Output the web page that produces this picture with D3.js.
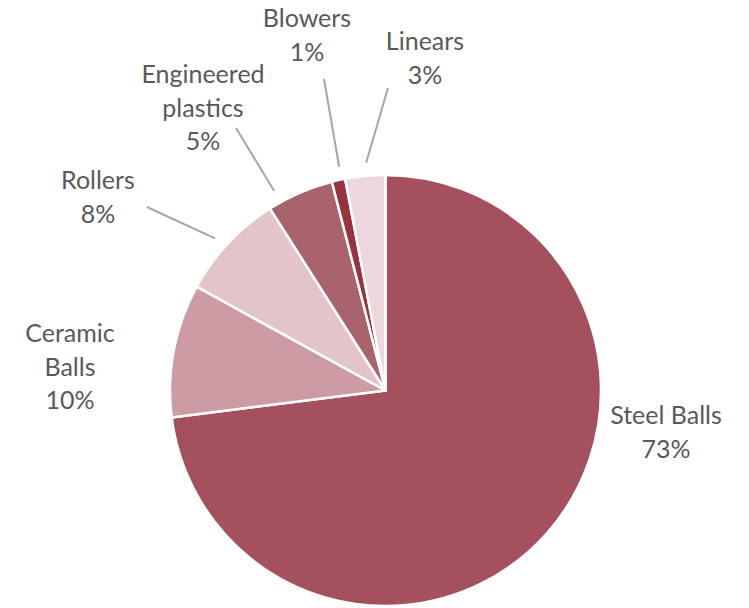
<!DOCTYPE html>
<html>
<head>
<meta charset="utf-8">
<script src="https://cdn.jsdelivr.net/npm/d3@7"></script>
<style>
  html, body { margin: 0; padding: 0; background: #ffffff; }
  svg { display: block; }
</style>
</head>
<body>
<svg id="chart" width="749" height="608"></svg>
<script>
// Product share data, clockwise from 12 o'clock
const categories = ["Steel Balls", "Ceramic Balls", "Rollers", "Engineered plastics", "Blowers", "Linears"];
const shares = [73, 10, 8, 5, 1, 3];
const sliceColors = ["#a5515d", "#cc9ba3", "#e2c4c9", "#a9636c", "#98323f", "#ecd8dc"];

// Label layout: wrapped lines, centre x, first baseline, leader settings
const labelLines = [
  ["Steel Balls"],
  ["Ceramic", "Balls"],
  ["Rollers"],
  ["Engineered", "plastics"],
  ["Blowers"],
  ["Linears"]
];
const labelLayout = [
  { x: 666, y: 424, leader: null },
  { x: 70,  y: 342, leader: null },
  { x: 98,  y: 189, leader: { t: 0.45, end: [147, 207] } },
  { x: 203, y: 83,  leader: { t: 0.18, end: [236, 128] } },
  { x: 307, y: 27,  leader: { t: 0.75, end: [324, 79] } },
  { x: 425, y: 50,  leader: { t: 0.55, end: [388, 88] } }
];

const svg = d3.select("#chart");
const cx = 385.5, cy = 390.5, radius = 215.5;
const lineHeight = 33.5;

const pie = d3.pie().sort(null).value(d => d.value);
const arcs = pie(categories.map((c, i) => ({ name: c, value: shares[i], i })));
const arc = d3.arc().innerRadius(0).outerRadius(radius);

const g = svg.append("g").attr("transform", `translate(${cx},${cy})`);

g.selectAll("path.slice")
  .data(arcs)
  .join("path")
  .attr("class", "slice")
  .attr("d", arc)
  .attr("fill", d => sliceColors[d.data.i])
  .attr("stroke", "#ffffff")
  .attr("stroke-width", 2.5)
  .attr("stroke-linejoin", "round");

// Leader lines from the slice rim out to the label
const leaderRadius = radius + 13;
arcs.forEach(d => {
  const lay = labelLayout[d.data.i];
  if (!lay.leader) return;
  const a = d.startAngle + (d.endAngle - d.startAngle) * lay.leader.t;
  const x0 = cx + leaderRadius * Math.sin(a);
  const y0 = cy - leaderRadius * Math.cos(a);
  svg.append("line")
    .attr("x1", x0).attr("y1", y0)
    .attr("x2", lay.leader.end[0]).attr("y2", lay.leader.end[1])
    .attr("stroke", "#a6a6a6")
    .attr("stroke-width", 2);
});

// Category name and percentage
arcs.forEach(d => {
  const i = d.data.i;
  const lay = labelLayout[i];
  const lines = labelLines[i].concat([shares[i] + "%"]);
  const t = svg.append("text")
    .attr("text-anchor", "middle")
    .attr("font-family", "Lato, 'Open Sans', sans-serif")
    .attr("font-size", 25)
    .attr("fill", "#595959");
  lines.forEach((s, k) => {
    t.append("tspan")
      .attr("x", lay.x)
      .attr("y", lay.y + k * lineHeight)
      .text(s);
  });
});
</script>
</body>
</html>
